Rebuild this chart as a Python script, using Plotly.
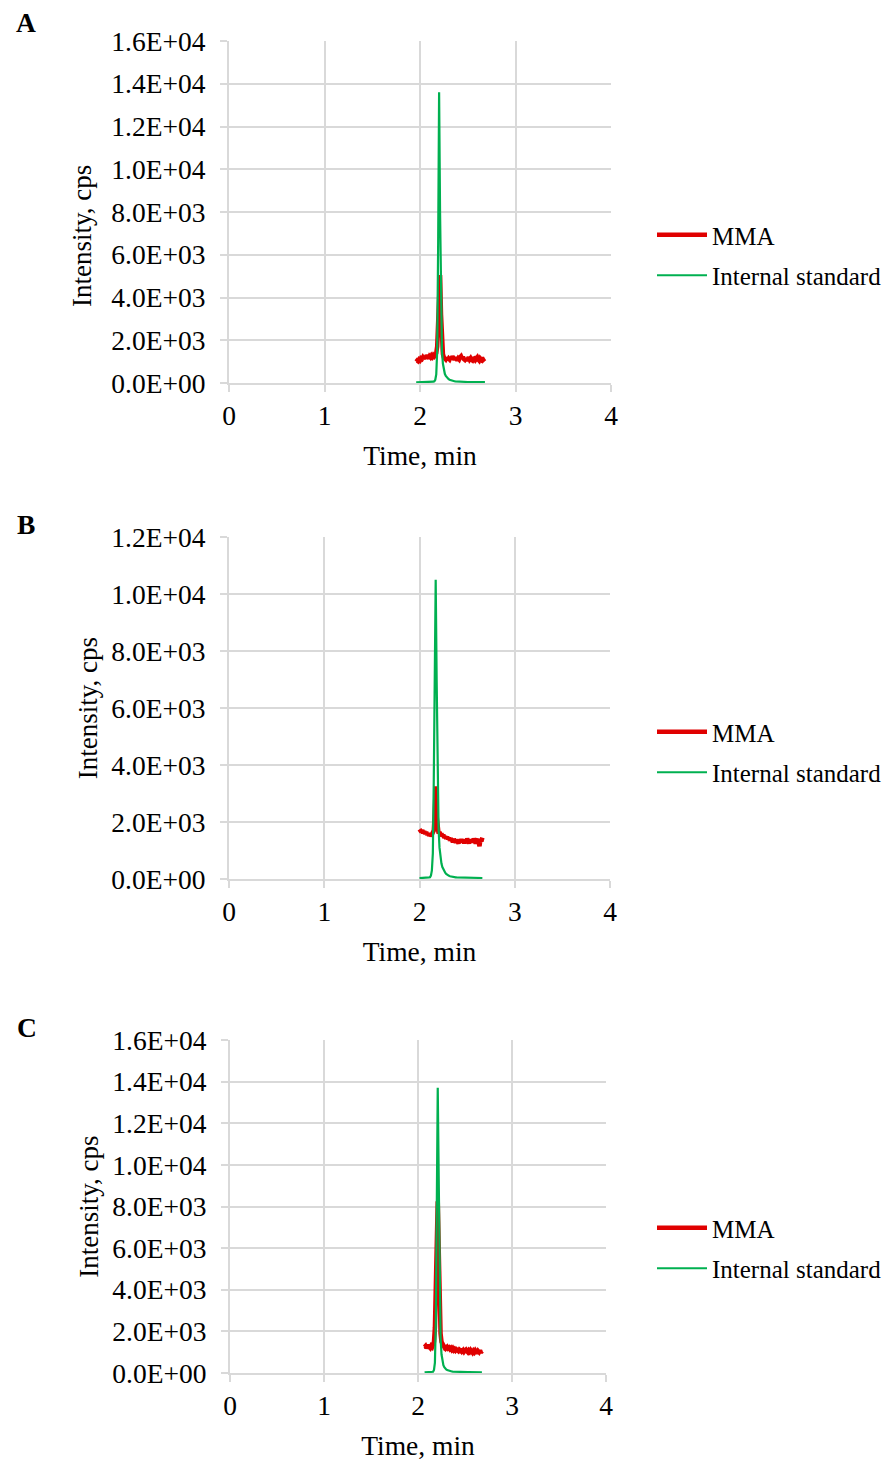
import plotly.graph_objects as go

# ---------------- data ----------------
time_a = [1.96, 1.97, 1.98, 1.99, 2.00, 2.01, 2.02, 2.03, 2.04, 2.05,
          2.06, 2.07, 2.08, 2.09, 2.10, 2.11, 2.12, 2.13, 2.14, 2.15,
          2.16, 2.17, 2.18, 2.19, 2.20, 2.21, 2.22, 2.23, 2.24, 2.25,
          2.26, 2.27, 2.28, 2.29, 2.30, 2.31, 2.32, 2.33, 2.34, 2.35,
          2.36, 2.37, 2.38, 2.39, 2.40, 2.41, 2.42, 2.43, 2.44, 2.45,
          2.46, 2.47, 2.48, 2.49, 2.50, 2.51, 2.52, 2.53, 2.54, 2.55,
          2.56, 2.57, 2.58, 2.59, 2.60, 2.61, 2.62, 2.63, 2.64, 2.65,
          2.66, 2.67, 2.68]
mma_a = [1000, 1050, 1020, 1100, 1060, 1150, 1120, 1200, 1130, 1250,
         1180, 1300, 1220, 1150, 1250, 1200, 1280, 1220, 1300, 1250,
         1320, 1400, 1700, 2800, 4300, 5050, 3200, 1800, 1350, 1200,
         1150, 1100, 1180, 1080, 1150, 1100, 1200, 1120, 1250, 1150,
         1100, 1200, 1130, 1060, 1150, 1100, 1200, 1250, 1150, 1220,
         1120, 1080, 1150, 1050, 1120, 1200, 1100, 1160, 1080, 1050,
         1130, 1150, 1080, 1120, 1200, 1100, 1050, 1150, 1100, 1180,
         1080, 1120, 1150]
is_a = [30, 30, 35, 30, 30, 35, 30, 30, 35, 30,
        30, 35, 35, 40, 40, 45, 45, 50, 60, 80,
        150, 400, 1500, 6500, 13600, 8000, 3000, 1500, 900, 600,
        430, 330, 260, 210, 180, 150, 130, 115, 100, 90,
        80, 75, 70, 65, 62, 60, 58, 56, 54, 52,
        50, 50, 48, 48, 46, 46, 45, 45, 44, 44,
        43, 43, 42, 42, 41, 41, 40, 40, 40, 40,
        40, 40, 40]

time_b = [2.00, 2.01, 2.02, 2.03, 2.04, 2.05, 2.06, 2.07, 2.08, 2.09,
          2.10, 2.11, 2.12, 2.13, 2.14, 2.15, 2.16, 2.17, 2.18, 2.19,
          2.20, 2.21, 2.22, 2.23, 2.24, 2.25, 2.26, 2.27, 2.28, 2.29,
          2.30, 2.31, 2.32, 2.33, 2.34, 2.35, 2.36, 2.37, 2.38, 2.39,
          2.40, 2.41, 2.42, 2.43, 2.44, 2.45, 2.46, 2.47, 2.48, 2.49,
          2.50, 2.51, 2.52, 2.53, 2.54, 2.55, 2.56, 2.57, 2.58, 2.59,
          2.60, 2.61, 2.62, 2.63, 2.64, 2.65, 2.66]
mma_b = [1750, 1700, 1650, 1720, 1600, 1680, 1580, 1650, 1550, 1600,
         1520, 1580, 1500, 1560, 1600, 1700, 2300, 3250, 2200, 1650,
         1600, 1650, 1550, 1600, 1500, 1550, 1450, 1500, 1420, 1480,
         1400, 1450, 1350, 1420, 1380, 1300, 1400, 1350, 1280, 1380,
         1320, 1250, 1350, 1300, 1400, 1280, 1350, 1250, 1380, 1300,
         1420, 1320, 1250, 1350, 1300, 1380, 1280, 1420, 1320, 1250,
         1350, 1400, 1300, 1150, 1400, 1320, 1450]
is_b = [30, 30, 35, 30, 35, 35, 40, 40, 45, 50,
        55, 60, 120, 300, 900, 3500, 8000, 10500, 7000, 3500,
        1800, 1100, 750, 550, 420, 330, 270, 220, 180, 150,
        130, 110, 95, 85, 78, 72, 68, 64, 60, 58,
        56, 54, 52, 50, 48, 47, 46, 45, 44, 43,
        42, 41, 40, 40, 39, 39, 38, 38, 37, 37,
        36, 36, 35, 35, 35, 35, 35]

time_c = [2.07, 2.08, 2.09, 2.10, 2.11, 2.12, 2.13, 2.14, 2.15, 2.16,
          2.17, 2.18, 2.19, 2.20, 2.21, 2.22, 2.23, 2.24, 2.25, 2.26,
          2.27, 2.28, 2.29, 2.30, 2.31, 2.32, 2.33, 2.34, 2.35, 2.36,
          2.37, 2.38, 2.39, 2.40, 2.41, 2.42, 2.43, 2.44, 2.45, 2.46,
          2.47, 2.48, 2.49, 2.50, 2.51, 2.52, 2.53, 2.54, 2.55, 2.56,
          2.57, 2.58, 2.59, 2.60, 2.61, 2.62, 2.63, 2.64, 2.65, 2.66,
          2.67, 2.68]
mma_c = [1250, 1300, 1200, 1280, 1350, 1250, 1200, 1300, 1250, 1380,
         1500, 2200, 4500, 7500, 8250, 6000, 3200, 1900, 1500, 1380,
         1300, 1250, 1320, 1200, 1250, 1180, 1220, 1150, 1200, 1120,
         1180, 1100, 1150, 1080, 1130, 1100, 1050, 1120, 1080, 1150,
         1050, 1100, 1020, 1080, 1120, 1050, 1000, 1080, 1020, 1100,
         1050, 980, 1060, 1000, 1080, 1020, 950, 1050, 1000, 1080,
         980, 1050]
is_c = [30, 30, 30, 35, 35, 35, 40, 40, 45, 60,
        150, 500, 2500, 9000, 13700, 9500, 4000, 1700, 900, 550,
        380, 280, 210, 170, 140, 120, 100, 90, 80, 72,
        66, 62, 58, 55, 52, 50, 48, 46, 45, 44,
        43, 42, 41, 40, 40, 39, 39, 38, 38, 37,
        37, 36, 36, 35, 35, 35, 34, 34, 34, 33,
        33, 33]

y_ticks_16 = [0, 2000, 4000, 6000, 8000, 10000, 12000, 14000, 16000]
y_labels_16 = ["0.0E+00", "2.0E+03", "4.0E+03", "6.0E+03", "8.0E+03",
               "1.0E+04", "1.2E+04", "1.4E+04", "1.6E+04"]
y_ticks_12 = [0, 2000, 4000, 6000, 8000, 10000, 12000]
y_labels_12 = ["0.0E+00", "2.0E+03", "4.0E+03", "6.0E+03", "8.0E+03",
               "1.0E+04", "1.2E+04"]
x_ticks = [0, 1, 2, 3, 4]
panel_labels = ["A", "B", "C"]
series_names = ["MMA", "Internal standard"]
x_title = "Time, min"
y_title = "Intensity, cps"

# ---------------- figure ----------------
W, H = 886, 1461
FONT = "Liberation Serif, Times New Roman, serif"
RED = "#e00000"
GREEN = "#00b050"
GRID = "#d9d9d9"
FS = 27.5

panels = [
    (time_a, mma_a, is_a, y_ticks_16, y_labels_16, 16000),
    (time_b, mma_b, is_b, y_ticks_12, y_labels_12, 12000),
    (time_c, mma_c, is_c, y_ticks_16, y_labels_16, 16000),
]
# pixel boxes: (left, right, top, bottom)
boxes = [(229, 611, 41, 383), (229, 610, 537, 879), (230, 606, 1040, 1373)]
legend_tops = [212, 709, 1205]
label_pos = [(14, 22), (15, 524), (15, 1027)]

fig = go.Figure()
layout = dict(
    width=W, height=H,
    margin=dict(l=0, r=0, t=0, b=0, autoexpand=False),
    paper_bgcolor="white", plot_bgcolor="white",
    font=dict(family=FONT, size=FS, color="black"),
    showlegend=True,
)
annotations = []
for i, (t, mma, ist, yt, yl, ymax) in enumerate(panels):
    n = "" if i == 0 else str(i + 1)
    xa, ya = "x" + n, "y" + n
    leg = "legend" + n
    fig.add_trace(go.Scatter(x=t, y=mma, mode="lines", name=series_names[0],
                             line=dict(color=RED, width=4.5),
                             xaxis=xa, yaxis=ya, legend=leg, legendgroup="m" + n))
    fig.add_trace(go.Scatter(x=t, y=ist, mode="lines", name=series_names[1],
                             line=dict(color=GREEN, width=2.2),
                             xaxis=xa, yaxis=ya, legend=leg, legendgroup="i" + n))
    l, r, tp, bt = boxes[i]
    layout["xaxis" + n] = dict(
        domain=[l / W, r / W], anchor=ya, range=[0, 4],
        tickvals=x_ticks, ticktext=[str(v) for v in x_ticks],
        showgrid=True, gridcolor=GRID, gridwidth=2,
        showline=True, linecolor=GRID, linewidth=2,
        ticks="outside", ticklen=7, tickcolor=GRID, tickwidth=2,
        zeroline=False, tickfont=dict(size=FS),
        title=dict(text=x_title, font=dict(size=FS), standoff=16),
    )
    yax = dict(
        domain=[1 - bt / H, 1 - tp / H], anchor=xa, range=[0, ymax],
        tickvals=yt, ticktext=yl,
        showgrid=True, gridcolor=GRID, gridwidth=2,
        showline=True, linecolor=GRID, linewidth=2,
        ticks="outside", ticklen=7, tickcolor=GRID, tickwidth=2,
        zeroline=False, tickfont=dict(size=FS), ticklabelstandoff=9,
    )
    if i == 0:
        # panel A: the title sits lower than the axis centre in the original
        annotations.append(dict(
            text=y_title, x=82 / W, y=1 - 236 / H, xref="paper", yref="paper",
            xanchor="center", yanchor="middle", textangle=-90,
            showarrow=False, font=dict(size=27),
        ))
    else:
        yax["title"] = dict(text=y_title, font=dict(size=27), standoff=6)
    layout["yaxis" + n] = yax
    layout[leg] = dict(
        x=652 / W, xanchor="left", y=1 - legend_tops[i] / H, yanchor="top",
        font=dict(size=25), bgcolor="rgba(0,0,0,0)", itemwidth=50,
        tracegroupgap=5, borderwidth=0,
    )
    lx, ly = label_pos[i]
    annotations.append(dict(
        text="<b>%s</b>" % panel_labels[i], x=lx / W, y=1 - ly / H,
        xref="paper", yref="paper", xanchor="left", yanchor="middle",
        showarrow=False, font=dict(size=FS),
    ))
layout["annotations"] = annotations
fig.update_layout(**layout)

fig.write_html(
    "out.html",
    config={"displayModeBar": False},
    post_script="document.body.style.margin='0';document.body.style.overflow='hidden';",
)
